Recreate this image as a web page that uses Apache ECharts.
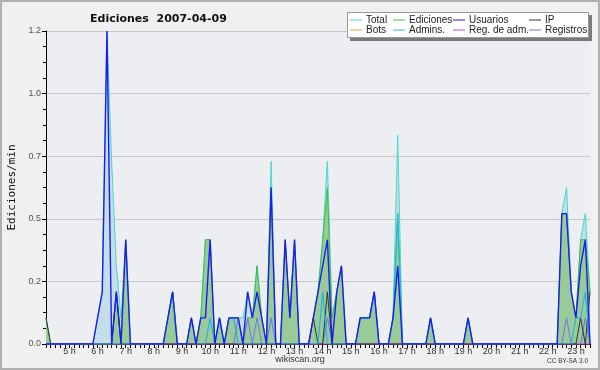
<!DOCTYPE html>
<html><head><meta charset="utf-8">
<script src="https://cdn.jsdelivr.net/npm/echarts@6/dist/echarts.min.js"></script>
<style>html,body{margin:0;padding:0;background:#f0f0f0}#c{width:600px;height:370px}</style>
</head><body><div id="c"></div><script>
// time axis: samples every 10 minutes from 04:10 to 23:30
const startMinute = 4 * 60 + 10, stepMinutes = 10, sampleCount = 117;
const times = [];
for (let k = 0; k < sampleCount; k++) {
  const m = startMinute + k * stepMinutes;
  times.push(String(Math.floor(m / 60)).padStart(2, '0') + ':' + String(m % 60).padStart(2, '0'));
}
const yTicks = [0, 0.24, 0.48, 0.72, 0.96, 1.2];

// values (edits/min), grouped: 04:10-04:50, then one row per hour 05h..22h, then 23h
const total = [
  0.1,0,0,0,0,
  0,0,0,0,0,0,
  0.1,0.2,1.2,0.7,0.3,0.1,
  0.4,0,0,0,0,0,
  0,0,0,0.1,0.2,0,
  0,0,0.1,0,0.1,0.4,
  0.4,0,0.1,0,0.1,0.1,
  0.1,0.1,0.2,0.1,0.3,0.1,
  0,0.7,0,0,0.4,0.1,
  0.4,0,0,0,0.1,0.2,
  0.4,0.7,0.1,0.2,0.3,0,
  0,0,0.1,0.1,0.1,0.2,
  0,0,0,0.1,0.8,0,
  0,0,0,0,0,0.1,
  0,0,0,0,0,0,
  0,0.1,0,0,0,0,
  0,0,0,0,0,0,
  0,0,0,0,0,0,
  0,0,0,0.5,0.6,0.2,
  0.1,0.4,0.5,0.2
];
const ediciones = [
  0.1,0,0,0,0,
  0,0,0,0,0,0,
  0,0,0,0,0.2,0,
  0.4,0,0,0,0,0,
  0,0,0,0.1,0.2,0,
  0,0,0.1,0,0.1,0.4,
  0.4,0,0.1,0,0.1,0.1,
  0.1,0,0.1,0.1,0.3,0.1,
  0,0.6,0,0,0.4,0.1,
  0.4,0,0,0,0.1,0.2,
  0.4,0.6,0.1,0.2,0.3,0,
  0,0,0.1,0.1,0.1,0.2,
  0,0,0,0.1,0.5,0,
  0,0,0,0,0,0.1,
  0,0,0,0,0,0,
  0,0.1,0,0,0,0,
  0,0,0,0,0,0,
  0,0,0,0,0,0,
  0,0,0,0.5,0.5,0.2,
  0.1,0.4,0.4,0.2
];
const usuarios = [
  0,0,0,0,0,
  0,0,0,0,0,0,
  0.1,0.2,1.2,0,0.2,0,
  0.4,0,0,0,0,0,
  0,0,0,0.1,0.2,0,
  0,0,0.1,0,0.1,0.1,
  0.4,0,0.1,0,0.1,0.1,
  0.1,0,0.2,0.1,0.2,0.1,
  0,0.6,0,0,0.4,0.1,
  0.4,0,0,0,0.1,0.2,
  0.3,0.4,0,0.2,0.3,0,
  0,0,0.1,0.1,0.1,0.2,
  0,0,0,0.1,0.3,0,
  0,0,0,0,0,0.1,
  0,0,0,0,0,0,
  0,0.1,0,0,0,0,
  0,0,0,0,0,0,
  0,0,0,0,0,0,
  0,0,0,0.5,0.5,0.2,
  0.1,0.3,0.4,0
];
const ip = [
  0.1,0,0,0,0,
  0,0,0,0,0,0,
  0,0,0,0,0.2,0,
  0,0,0,0,0,0,
  0,0,0,0,0,0,
  0,0,0,0,0,0,
  0,0,0,0,0,0,
  0,0,0,0,0,0,
  0,0,0,0,0,0,
  0,0,0,0,0.1,0,
  0,0.2,0,0,0,0,
  0,0,0,0,0,0,
  0,0,0,0,0,0,
  0,0,0,0,0,0,
  0,0,0,0,0,0,
  0,0,0,0,0,0,
  0,0,0,0,0,0,
  0,0,0,0,0,0,
  0,0,0,0,0,0,
  0,0.1,0,0.2
];
const admins = [
  0,0,0,0,0,
  0,0,0,0,0,0,
  0,0,0,0,0,0,
  0,0,0,0,0,0,
  0,0,0,0.1,0.2,0,
  0,0,0.1,0,0,0,
  0.1,0,0.1,0,0.1,0.1,
  0,0,0,0,0,0,
  0,0,0,0,0,0,
  0,0,0,0,0,0,
  0.2,0,0,0,0,0,
  0,0,0.1,0.1,0.1,0.2,
  0,0,0,0.1,0.5,0,
  0,0,0,0,0,0.1,
  0,0,0,0,0,0,
  0,0.1,0,0,0,0,
  0,0,0,0,0,0,
  0,0,0,0,0,0,
  0,0,0,0,0,0,
  0.1,0.1,0.2,0
];
const registros = [
  0,0,0,0,0,
  0,0,0,0,0,0,
  0,0,0,0,0,0,
  0,0,0,0,0,0,
  0,0,0,0,0,0,
  0,0,0,0,0,0,
  0,0,0,0,0,0,
  0.1,0,0.1,0,0.1,0,
  0,0.1,0,0,0,0,
  0,0,0,0,0,0,
  0,0.1,0,0,0,0,
  0,0,0,0,0,0,
  0,0,0,0,0,0,
  0,0,0,0,0,0,
  0,0,0,0,0,0,
  0,0,0,0,0,0,
  0,0,0,0,0,0,
  0,0,0,0,0,0,
  0,0,0,0,0.1,0,
  0,0,0.1,0
];
const bots = times.map(() => 0);
const regAdm = times.map(() => 0);

const colors = {
  'Total':'#48d8cc','Ediciones':'#44bb44','Usuarios':'#1c1cf0','IP':'#333333',
  'Bots':'#f0a030','Admins.':'#28b4e0','Reg. de adm.':'#d040e0','Registros':'#7474f0'
};
const legendPos = [
  ['Total',350,15],['Ediciones',393,15],['Usuarios',453,15],['IP',529,15],
  ['Bots',350,25],['Admins.',393,25],['Reg. de adm.',453,25],['Registros',529,25]
];

function lineSeries(name, data, width, extra) {
  return Object.assign({
    name, type:'line', data, symbol:'none', smooth:false,
    itemStyle:{color:colors[name]},
    lineStyle:{color:colors[name], width: width},
    emphasis:{disabled:true}
  }, extra || {});
}

const chart = echarts.init(document.getElementById('c'), null, {renderer:'canvas'});
chart.setOption({
  animation:false,
  backgroundColor:'#f0f0f0',
  title:{text:'Ediciones  2007-04-09', left:85, top:9,
    textStyle:{fontFamily:'DejaVu Sans', fontWeight:'bold', fontSize:11, color:'#111'}},
  legend: legendPos.map(([n,x,y]) => ({
    data:[n], left:x, top:y, padding:0, itemWidth:12, itemHeight:1, icon:'rect',
    selectedMode:false, z:30,
    textStyle:{fontFamily:'Liberation Sans', fontSize:10, color:'#222', padding:[0,0,0,-1]}
  })),
  grid:{left:46, right:10, top:31, bottom:26, show:true, backgroundColor:'#edeef1', borderWidth:0,
    containLabel:false, outerBoundsMode:'none'},
  xAxis:{type:'category', data:times, boundaryGap:false,
    axisLine:{lineStyle:{color:'#000', width:1}},
    axisTick:{show:true, interval:0, length:4, lineStyle:{color:'#000'}},
    axisLabel:{interval:(idx,val)=>val.endsWith(':00'), formatter:v=>parseInt(v,10)+' h',
      fontFamily:'Liberation Sans', fontSize:9, color:'#333', margin:3},
    splitLine:{show:false}},
  yAxis:{type:'value', min:yTicks[0], max:yTicks[yTicks.length-1], interval:yTicks[1],
    name:'Ediciones/min', nameLocation:'middle', nameGap:28,
    nameTextStyle:{fontFamily:'DejaVu Sans Mono', fontSize:11, color:'#111'},
    axisLine:{show:true, lineStyle:{color:'#000'}},
    axisTick:{show:true, length:4, lineStyle:{color:'#000'}},
    minorTick:{show:true, splitNumber:4, length:3, lineStyle:{color:'#000'}},
    axisLabel:{formatter:v=>v.toFixed(1), fontFamily:'Liberation Sans', fontSize:9, color:'#555', margin:5},
    splitLine:{lineStyle:{color:'#c8c8c8', width:1}}},
  series:[
    lineSeries('Total', total, 1, {areaStyle:{color:'#c4dfe9', opacity:1}}),
    lineSeries('Ediciones', ediciones, 1, {areaStyle:{color:'#98cb98', opacity:1}}),
    lineSeries('Bots', bots, 1),
    lineSeries('Reg. de adm.', regAdm, 1),
    lineSeries('Registros', registros, 1),
    lineSeries('IP', ip, 1),
    lineSeries('Admins.', admins, 1.2),
    lineSeries('Usuarios', usuarios, 1.4)
  ],
  graphic:[
    {type:'rect', shape:{x:1,y:1,width:598,height:368}, style:{fill:'none', stroke:'#b0b0b0', lineWidth:2}, z:1},
    {type:'rect', shape:{x:350,y:15,width:242,height:26}, style:{fill:'#7a7a7a'}, z:2},
    {type:'rect', shape:{x:347.5,y:12.5,width:241,height:25}, style:{fill:'#ffffff', stroke:'#999', lineWidth:1}, z:3},
    {type:'text', left:'center', top:355, style:{text:'wikiscan.org', fontFamily:'Liberation Sans', fontSize:9, fill:'#333'}},
    {type:'text', right:12, top:358, style:{text:'CC BY-SA 3.0', fontFamily:'Liberation Sans', fontSize:6.5, fill:'#333'}}
  ]
});
</script></body></html>
